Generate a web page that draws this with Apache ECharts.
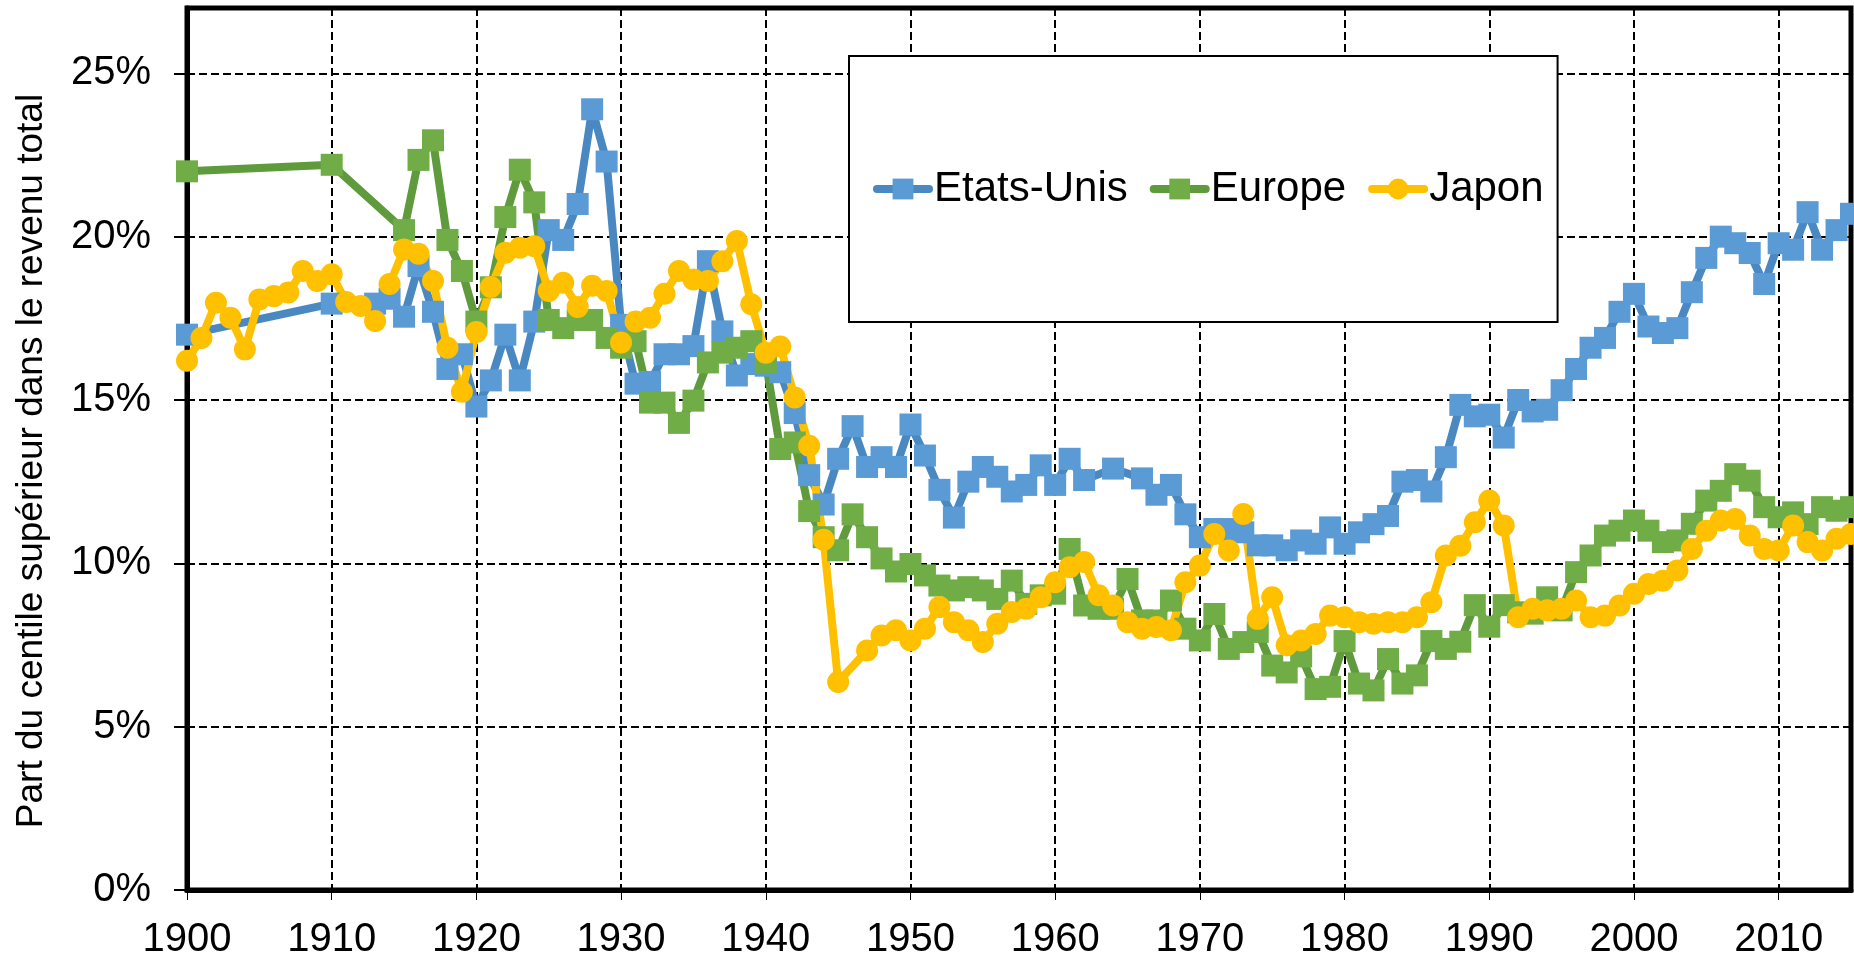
<!DOCTYPE html>
<html>
<head>
<meta charset="utf-8">
<title>Part du centile supérieur</title>
<script src="https://cdn.jsdelivr.net/npm/echarts@6/dist/echarts.min.js"></script>
<style>
  html, body { margin: 0; padding: 0; background: #fff; }
  #chart { width: 1854px; height: 963px; }
</style>
</head>
<body>
<div id="chart"></div>
<script>
// years list helper (categories only)
function span(a, b) {
    var out = [];
    for (var y = a; y <= b; y++) out.push(y);
    return out;
}

var tickYears = [1900, 1910, 1920, 1930, 1940, 1950, 1960, 1970, 1980, 1990, 2000, 2010];

var usYears = [1900, 1910].concat(span(1913, 1962), [1964], span(1966, 2015));
var usValues = [
    17.0, 17.95,
    17.95, 18.1, 17.55, 19.1, 17.7, 15.95, 16.4, 14.8, 15.6, 17.0,
    15.6, 17.4, 20.2, 19.9, 21.0, 23.9, 22.3, 17.3, 15.5, 15.55,
    16.4, 16.4, 16.65, 19.25, 17.1, 15.75, 16.1, 16.05, 15.85, 14.6,
    12.7, 11.8, 13.2, 14.2, 12.95, 13.25, 12.95, 14.25, 13.3, 12.25,
    11.4, 12.5, 12.95, 12.65, 12.2, 12.4, 13.0, 12.4, 13.2, 12.55,
    12.9,
    12.6, 12.1, 12.4, 11.5, 10.8, 11.05, 11.05, 10.95, 10.55, 10.55,
    10.4, 10.7, 10.6, 11.1, 10.6, 10.95, 11.2, 11.45, 12.5, 12.55,
    12.2, 13.25, 14.85, 14.5, 14.55, 13.85, 15.0, 14.65, 14.7, 15.3,
    15.95, 16.6, 16.9, 17.7, 18.25, 17.25, 17.05, 17.2, 18.3, 19.35,
    20.0, 19.8, 19.5, 18.55, 19.8, 19.6, 20.75, 19.6, 20.2, 20.7
];

var euYears = [1900, 1910].concat(span(1915, 2015));
var euValues = [
    22.0, 22.2,
    20.2, 22.35, 22.95, 19.9, 18.95, 17.4, 18.45, 20.6, 22.05, 21.05,
    17.45, 17.2, 17.45, 17.45, 16.9, 16.6, 16.8, 14.92, 14.92, 14.3,
    14.98, 16.15, 16.45, 16.6, 16.8, 16.15, 13.5, 13.7, 11.6, 10.8,
    10.4, 11.5, 10.8, 10.15, 9.75, 9.98, 9.63, 9.32, 9.17, 9.27,
    9.17, 8.91, 9.47, 8.76, 9.02, 9.07, 10.44, 8.71, 8.61, 8.61,
    9.52, 8.25, 8.25, 8.86, 8.0, 7.64, 8.45, 7.38, 7.59, 7.9,
    6.87, 6.66, 7.15, 6.15, 6.22, 7.62, 6.32, 6.11, 7.07, 6.32,
    6.57, 7.62, 7.38, 7.6, 8.72, 8.06, 8.72, 8.5, 8.46, 8.96,
    8.56, 9.73, 10.24, 10.85, 11.0, 11.31, 11.0, 10.65, 10.7, 11.21,
    11.92, 12.22, 12.73, 12.53, 11.72, 11.41, 11.56, 11.2, 11.72, 11.61, 11.72
];

var jpYears = span(1900, 1945).concat(span(1947, 2015));
var jpValues = [
    16.2, 16.9, 17.98, 17.52, 16.55, 18.08, 18.18, 18.29, 18.95, 18.64,
    18.85, 18.0, 17.88, 17.42, 18.55, 19.61, 19.48, 18.64, 16.6, 15.25,
    17.08, 18.46, 19.51, 19.66, 19.71, 18.34, 18.59, 17.85, 18.5, 18.34,
    16.76, 17.4, 17.52, 18.25, 18.95, 18.69, 18.64, 19.25, 19.87, 17.93,
    16.45, 16.64, 15.08, 13.6, 10.72, 6.37,
    7.33, 7.79, 7.95, 7.64, 8.0, 8.66, 8.2, 7.95, 7.59, 8.15,
    8.51, 8.61, 8.96, 9.42, 9.88, 10.04, 9.02, 8.71, 8.2, 8.0,
    8.05, 7.95, 9.42, 9.93, 10.9, 10.39, 11.51, 8.3, 8.96, 7.49,
    7.64, 7.84, 8.4, 8.35, 8.2, 8.15, 8.2, 8.2, 8.35, 8.81,
    10.24, 10.54, 11.26, 11.92, 11.16, 8.35, 8.61, 8.56, 8.61, 8.86,
    8.35, 8.4, 8.71, 9.07, 9.37, 9.47, 9.78, 10.44, 11.0, 11.31,
    11.36, 10.85, 10.44, 10.39, 11.16, 10.65, 10.39, 10.75, 10.9
];

var FONT = "'Liberation Sans', Arial, sans-serif";

function pairs(xs, ys) {
    return xs.map(function (x, i) { return [x, ys[i]]; });
}

function lineSeries(name, data, symbol, markColor, lineColor) {
    return {
        name: name,
        type: 'line',
        data: data,
        symbol: symbol,
        symbolSize: 22,
        showSymbol: true,
        itemStyle: { color: markColor },
        lineStyle: { color: lineColor, width: 8, cap: 'round', join: 'round' },
        emphasis: { disabled: true }
    };
}

window.onload = function () {
    var chart = echarts.init(document.getElementById('chart'));
    var dash = { color: '#000', width: 2, type: [8, 4] };
    chart.setOption({
        animation: false,
        backgroundColor: '#fff',
        textStyle: { fontFamily: FONT, color: '#000' },
        grid: {
            left: 187, right: 3, top: 8, bottom: 73,
            show: true, borderColor: '#000', borderWidth: 5,
            containLabel: false, outerBoundsMode: 'none'
        },
        legend: {
            left: 849, top: 56,
            orient: 'horizontal',
            padding: [112, 14, 112, 24],
            backgroundColor: '#fff',
            borderColor: '#000',
            borderWidth: 2,
            borderRadius: 0,
            itemWidth: 52,
            itemHeight: 26,
            itemGap: 22,
            lineStyle: { width: 8, cap: 'round' },
            textStyle: { fontFamily: FONT, fontSize: 42, color: '#000' },
            data: ['Etats-Unis', 'Europe', 'Japon']
        },
        xAxis: {
            type: 'value',
            min: 1900, max: 2015, interval: 10,
            axisLine: { show: true, lineStyle: { color: '#000', width: 5 } },
            axisTick: { show: true, length: 10, customValues: tickYears, lineStyle: { color: '#000', width: 1 } },
            axisLabel: {
                customValues: tickYears,
                margin: 30,
                fontSize: 40, color: '#000', fontFamily: FONT,
                formatter: function (v) { return String(v); }
            },
            splitLine: { show: true, lineStyle: dash }
        },
        yAxis: {
            type: 'value',
            min: 0, max: 27, interval: 5,
            name: 'Part du centile supérieur dans le revenu total',
            nameLocation: 'middle',
            nameGap: 137,
            nameTextStyle: { fontSize: 37, color: '#000', fontFamily: FONT, padding: [0, 24, 0, 0] },
            axisLine: { show: true, lineStyle: { color: '#000', width: 5 } },
            axisTick: { show: true, length: 13, lineStyle: { color: '#000', width: 2 } },
            axisLabel: {
                showMaxLabel: false,
                margin: 36,
                fontSize: 40, color: '#000', fontFamily: FONT,
                formatter: '{value}%'
            },
            splitLine: { show: true, lineStyle: dash }
        },
        series: [
            lineSeries('Etats-Unis', pairs(usYears, usValues), 'rect', '#5B9BD5', '#4A88C2'),
            lineSeries('Europe', pairs(euYears, euValues), 'rect', '#70AD47', '#5F9B3D'),
            lineSeries('Japon', pairs(jpYears, jpValues), 'circle', '#FFC000', '#FFC000')
        ]
    });
};
</script>
</body>
</html>
